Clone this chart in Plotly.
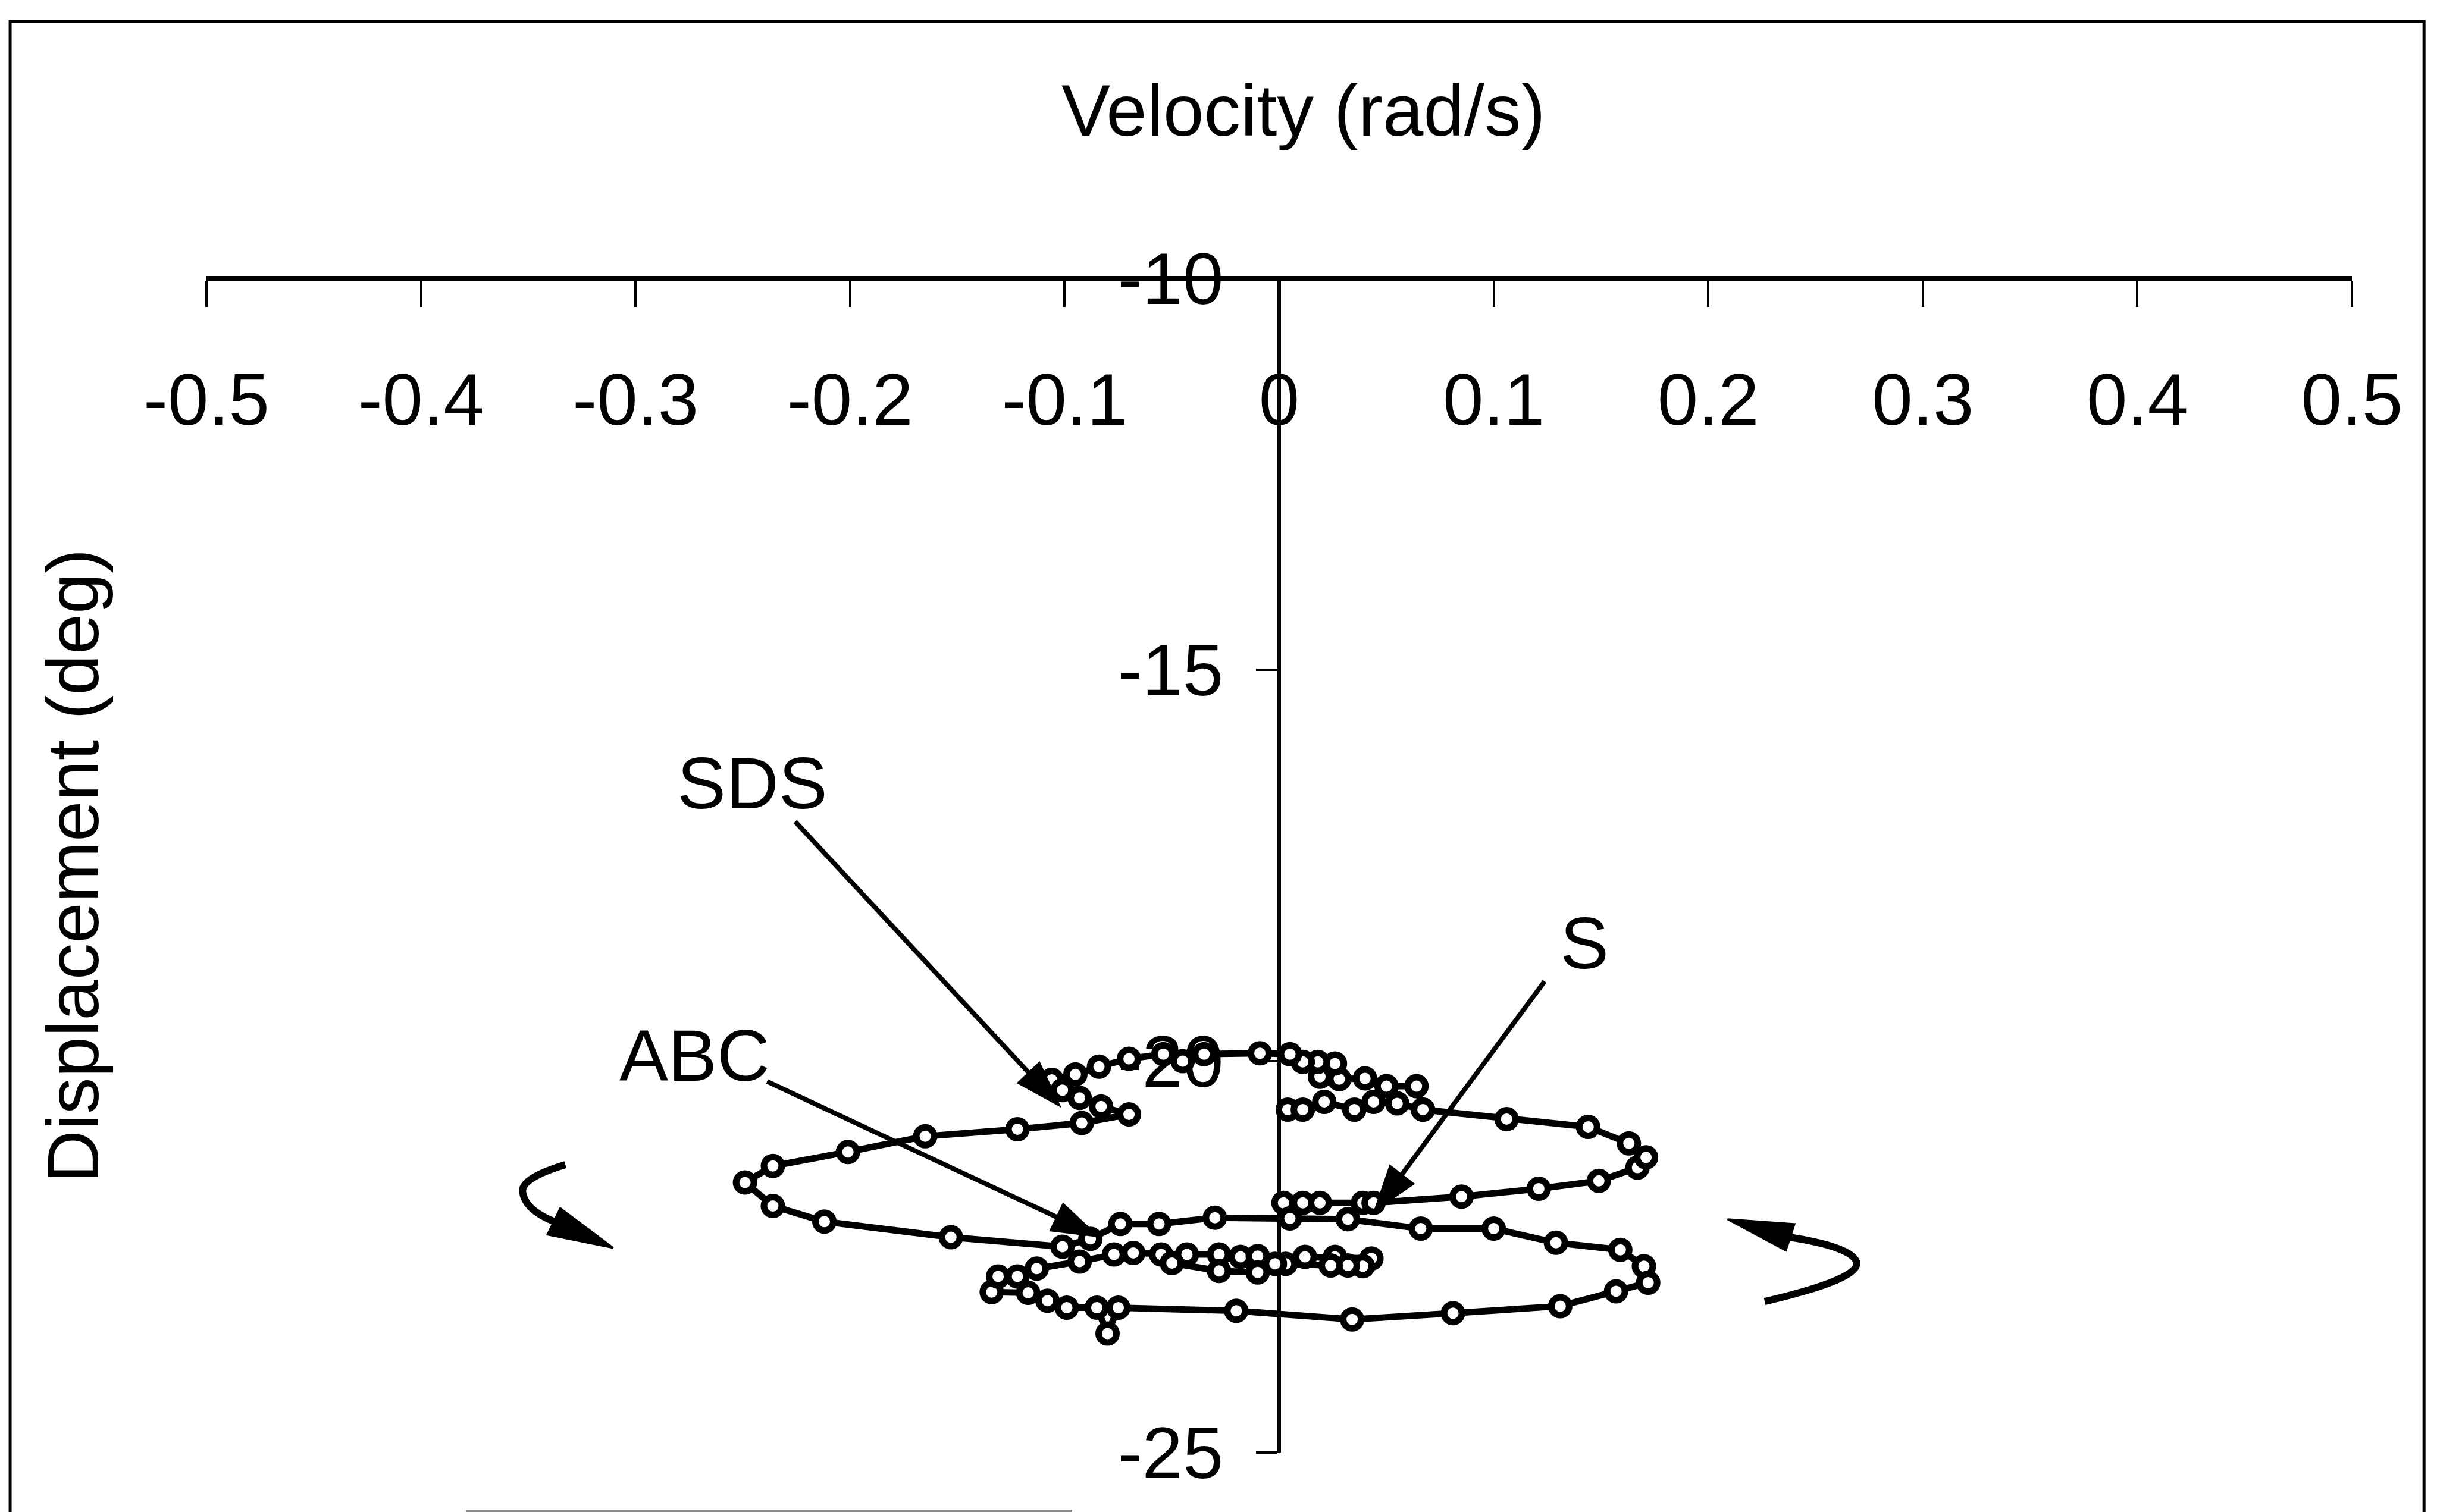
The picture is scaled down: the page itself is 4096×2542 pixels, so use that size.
import plotly.graph_objects as go

# ---------------- data (velocity rad/s, displacement deg) ----------------
velocity = [
    0.002, 0.011, 0.019, 0.039, 0.044, 0.085, 0.121, 0.149, 0.167, 0.171,
    0.163, 0.144, 0.106, 0.067, 0.064, 0.050, 0.040, 0.028, 0.019, 0.026,
    0.018, 0.011, 0.005, -0.009, -0.035, -0.045, -0.054, -0.070, -0.084, -0.095,
    -0.106, -0.101, -0.093, -0.083, -0.070, -0.092, -0.122, -0.165, -0.201, -0.236,
    -0.249, -0.236, -0.212, -0.153, -0.101, -0.088, -0.074, -0.056, -0.030, 0.005,
    0.032, 0.066, 0.100, 0.129, 0.159, 0.170, 0.172, 0.157, 0.131, 0.081,
    0.034, -0.020, -0.075, -0.080, -0.085, -0.099, -0.108, -0.117, -0.134, -0.131,
    -0.122, -0.113, -0.093, -0.077, -0.068, -0.055, -0.043, -0.028, -0.018, -0.010,
    0.012, 0.026, 0.043, 0.039, 0.032, 0.024, 0.003, -0.002, -0.010, -0.028,
    -0.050,
    None,
    0.004, 0.011, 0.021, 0.035, 0.044, 0.055, 0.067,
]
displacement = [
    -21.81, -21.81, -21.81, -21.81, -21.81, -21.73, -21.63, -21.53, -21.36, -21.23,
    -21.05, -20.84, -20.74, -20.62, -20.32, -20.32, -20.22, -20.23, -20.20, -20.03,
    -20.01, -20.01, -19.91, -19.90, -19.91, -20.00, -19.91, -19.97, -20.07, -20.17,
    -20.24, -20.37, -20.47, -20.58, -20.68, -20.79, -20.87, -20.96, -21.16, -21.34,
    -21.55, -21.85, -22.05, -22.25, -22.37, -22.27, -22.08, -22.08, -22.00, -22.01,
    -22.02, -22.14, -22.14, -22.32, -22.41, -22.62, -22.83, -22.94, -23.13, -23.22,
    -23.30, -23.19, -23.15, -23.48, -23.15, -23.15, -23.06, -22.96, -22.95, -22.75,
    -22.75, -22.65, -22.56, -22.47, -22.45, -22.47, -22.47, -22.47, -22.50, -22.49,
    -22.50, -22.50, -22.52, -22.62, -22.61, -22.61, -22.59, -22.59, -22.70, -22.68,
    -22.58,
    None,
    -20.62, -20.62, -20.52, -20.62, -20.52, -20.54, -20.62,
]

x_tick_vals = [-0.5, -0.4, -0.3, -0.2, -0.1, 0, 0.1, 0.2, 0.3, 0.4, 0.5]
x_tick_text = ["-0.5", "-0.4", "-0.3", "-0.2", "-0.1", "0", "0.1", "0.2", "0.3", "0.4", "0.5"]
y_tick_vals = [-25, -20, -15, -10]
y_tick_text = ["-25", "-20", "-15", "-10"]

x_title = "Velocity (rad/s)"
y_title = "Displacement (deg)"

# labelled events: (text, text position, line start, arrow tip)
event_labels = ["SDS", "ABC", "S"]
event_text_x = [-0.2456, -0.2726, 0.1422]
event_text_y = [-16.45, -19.93, -18.49]
event_line_x0 = [-0.2256, -0.2387, 0.1237]
event_line_y0 = [-16.94, -20.26, -18.98]
event_base_x = [-0.1167, -0.1036, 0.0571]
event_base_y = [-20.149, -21.993, -21.451]
event_head = [  # triangle vertices (v1, v2, tip)
    [(-0.1217, -20.278), (-0.1118, -20.020), (-0.1024, -20.569)],
    [(-0.1066, -22.163), (-0.1007, -21.824), (-0.0846, -22.237)],
    [(0.0517, -21.336), (0.0626, -21.566), (0.0445, -21.912)],
]

FONT = "Liberation Sans, Arial, Helvetica, sans-serif"
FS = 123
W, H = 4096, 2542
ML, MR, MT, MB = 347, 143, 468, 100

fig = go.Figure()
fig.add_trace(go.Scatter(
    x=velocity, y=displacement, mode="lines+markers", connectgaps=False,
    line=dict(color="black", width=11),
    marker=dict(symbol="circle", size=30, color="white",
                line=dict(color="black", width=11)),
    showlegend=False, hoverinfo="skip", cliponaxis=False,
))

shapes = []
annotations = []

# event arrows
for i, lab in enumerate(event_labels):
    shapes.append(dict(type="line", xref="x", yref="y",
                       x0=event_line_x0[i], y0=event_line_y0[i],
                       x1=event_base_x[i], y1=event_base_y[i],
                       line=dict(color="black", width=8), layer="above"))
    (a, b), (c, d), (e, f) = event_head[i]
    shapes.append(dict(type="path", xref="x", yref="y",
                       path=f"M {a},{b} L {c},{d} L {e},{f} Z",
                       fillcolor="black", line=dict(color="black", width=3), layer="above"))
    annotations.append(dict(text=lab, x=event_text_x[i], y=event_text_y[i],
                            xref="x", yref="y", showarrow=False,
                            font=dict(family=FONT, size=FS, color="black"),
                            xanchor="center", yanchor="middle"))

# curved direction arrows
shapes.append(dict(type="path", xref="x", yref="y",
                   path="M -0.3327,-21.322 Q -0.3530,-21.492 -0.3527,-21.661 Q -0.3517,-21.898 -0.3381,-22.047",
                   line=dict(color="black", width=12), layer="above"))
shapes.append(dict(type="path", xref="x", yref="y",
                   path="M -0.3351,-21.878 L -0.3411,-22.217 L -0.3104,-22.386 Z",
                   fillcolor="black", line=dict(color="black", width=3), layer="above"))
shapes.append(dict(type="path", xref="x", yref="y",
                   path="M 0.2263,-23.071 Q 0.2716,-22.780 0.2691,-22.563 Q 0.2666,-22.373 0.2382,-22.251",
                   line=dict(color="black", width=12), layer="above"))
shapes.append(dict(type="path", xref="x", yref="y",
                   path="M 0.2362,-22.420 L 0.2402,-22.081 L 0.2090,-22.020 Z",
                   fillcolor="black", line=dict(color="black", width=3), layer="above"))

# outer frame and the cut-off line at the bottom
shapes.append(dict(type="rect", xref="paper", yref="paper",
                   x0=-0.0915, x1=1.0336, y0=-0.09, y1=1.2188,
                   line=dict(color="black", width=5), fillcolor="rgba(0,0,0,0)"))
shapes.append(dict(type="line", xref="paper", yref="paper",
                   x0=0.1209, x1=0.4035, y0=-0.0496, y1=-0.0496,
                   line=dict(color="#8a8a8a", width=4)))

# axis titles
annotations.append(dict(text=x_title, x=0.5113, y=1.1429, xref="paper", yref="paper",
                        showarrow=False, xanchor="center", yanchor="middle",
                        font=dict(family=FONT, size=FS, color="black")))
annotations.append(dict(text=y_title, x=-0.0621, y=0.4995, xref="paper", yref="paper",
                        showarrow=False, xanchor="center", yanchor="middle", textangle=-90,
                        font=dict(family=FONT, size=FS, color="black")))

fig.update_layout(
    width=W, height=H, autosize=False,
    margin=dict(l=ML, r=MR, t=MT, b=MB, pad=0),
    paper_bgcolor="white", plot_bgcolor="white",
    shapes=shapes, annotations=annotations,
    xaxis=dict(range=[-0.5, 0.5], side="bottom", anchor="free", position=1,
               showline=True, linewidth=8, linecolor="black",
               ticks="outside", ticklen=44, tickwidth=4, tickcolor="black",
               tickvals=x_tick_vals, ticktext=x_tick_text,
               tickfont=dict(family=FONT, size=FS, color="black"),
               ticklabelstandoff=50,
               showgrid=False, zeroline=False, layer="below traces", fixedrange=True),
    yaxis=dict(range=[-25, -10], side="left", anchor="free", position=0.5,
               showline=True, linewidth=6, linecolor="black",
               ticks="outside", ticklen=36, tickwidth=4, tickcolor="black",
               tickvals=y_tick_vals, ticktext=y_tick_text,
               tickfont=dict(family=FONT, size=FS, color="black"),
               ticklabelstandoff=30,
               showgrid=False, zeroline=False, layer="below traces", fixedrange=True),
)

fig.write_html("out.html")
